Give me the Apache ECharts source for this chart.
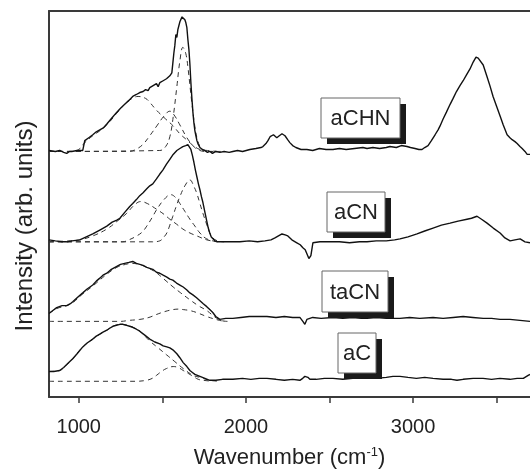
<!DOCTYPE html>
<html>
<head>
<meta charset="utf-8">
<script src="https://cdn.jsdelivr.net/npm/echarts@6/dist/echarts.min.js"></script>
<style>html,body{margin:0;padding:0;background:#fff}#c{width:530px;height:475px}</style>
</head>
<body>
<div id="c"></div>
<script>
// Wavenumber (cm-1) / intensity (arb. units, spectra vertically offset)
const xTicks = [1000, 1500, 2000, 2500, 3000, 3500];
const xTickLabels = [1000, 2000, 3000];
const sampleNames = ['aCHN', 'aCN', 'taCN', 'aC'];

const aCHN = [[822,251],[860,250],[886,251],[910,249],[928,248],[945,250],[958,250],[990,251],[1024,251],[1030,252],[1036,261],[1060,264],[1084,267],[1105,270],[1126,272],[1147,274],[1168,278],[1198,284],[1228,290],[1250,294],[1275,298],[1300,302],[1323,306],[1345,308],[1365,310],[1385,311],[1400,313],[1415,312],[1425,315],[1435,313],[1445,317],[1455,315],[1465,319],[1475,316],[1485,320],[1495,318],[1505,322],[1515,320],[1525,324],[1535,322],[1545,327],[1552,325],[1557,330],[1563,340],[1569,350],[1575,358],[1581,369],[1587,366],[1593,374],[1599,378],[1605,382],[1612,384],[1618,387],[1623,388],[1629,386],[1635,384],[1641,381],[1647,376],[1653,364],[1659,354],[1665,339],[1671,320],[1677,304],[1683,290],[1689,279],[1695,271],[1701,266],[1707,261],[1713,258],[1725,254],[1740,252],[1754,251],[1770,249],[1784,250],[1800,248],[1820,250],[1844,249],[1870,250],[1900,249],[1922,250],[1950,251],[1980,250],[2024,252],[2060,253],[2090,254],[2102,255],[2120,258],[2132,261],[2145,265],[2156,266],[2165,267],[2174,267],[2185,264],[2192,264],[2200,266],[2216,268],[2225,267],[2234,266],[2250,262],[2263,259],[2280,256],[2299,254],[2330,252],[2365,252],[2400,251],[2440,253],[2480,252],[2521,252],[2560,253],[2600,252],[2650,253],[2700,254],[2725,253],[2760,254],[2800,253],[2840,254],[2862,255],[2900,254],[2930,256],[2964,255],[2985,254],[3012,253],[3035,252],[3054,252],[3070,254],[3090,256],[3110,261],[3132,267],[3150,272],[3162,276],[3180,283],[3200,290],[3222,298],[3240,304],[3260,311],[3281,317],[3300,322],[3320,328],[3341,334],[3360,341],[3377,346],[3390,345],[3401,345],[3420,338],[3443,326],[3460,317],[3479,306],[3500,296],[3521,286],[3540,277],[3563,267],[3580,264],[3593,262],[3610,260],[3623,258],[3640,255],[3653,253],[3670,250],[3683,247],[3700,247]];
const aCHN_g1 = [[822,250],[950,250],[1000,252],[1036,259],[1084,266],[1126,271],[1168,277],[1228,289],[1275,298],[1320,304],[1355,306],[1400,304],[1425,300],[1465,292],[1520,283],[1565,276],[1605,268],[1645,262],[1685,256],[1725,252],[1770,251],[1830,250]];
const aCHN_g2 = [[822,250],[1300,250],[1340,252],[1383,257],[1425,266],[1467,276],[1510,286],[1545,291],[1575,286],[1605,277],[1647,264],[1683,256],[1710,252],[1760,250],[1850,250]];
const aCHN_g3 = [[822,250],[1485,251],[1520,255],[1545,265],[1565,285],[1587,316],[1605,342],[1623,356],[1640,350],[1653,336],[1677,299],[1695,275],[1707,264],[1725,255],[1745,251],[1800,250]];

const aCN = [[822,160],[860,159],[900,158],[928,158],[960,159],[1006,160],[1045,163],[1084,166],[1126,170],[1168,174],[1200,178],[1228,180],[1246,182],[1275,188],[1305,194],[1323,197],[1345,201],[1365,205],[1385,208],[1407,212],[1425,215],[1443,217],[1465,222],[1485,227],[1503,231],[1525,237],[1545,242],[1565,247],[1587,251],[1605,253],[1623,255],[1640,256],[1653,257],[1662,256],[1671,252],[1680,246],[1689,239],[1698,231],[1707,224],[1716,217],[1725,211],[1734,204],[1743,198],[1755,188],[1766,179],[1775,172],[1784,167],[1793,163],[1802,161],[1815,159],[1832,158],[1870,158],[1920,158],[1964,158],[2020,159],[2070,158],[2114,159],[2150,160],[2174,162],[2195,164],[2216,166],[2235,165],[2251,164],[2275,160],[2305,157],[2325,155],[2341,152],[2355,150],[2365,149],[2377,141],[2389,144],[2401,157],[2443,158],[2500,158],[2560,158],[2620,157],[2680,158],[2725,158],[2780,159],[2840,159],[2890,160],[2922,161],[2970,163],[3024,166],[3070,169],[3120,172],[3170,175],[3222,177],[3270,179],[3323,181],[3350,182],[3383,184],[3410,181],[3443,177],[3480,172],[3521,167],[3550,162],[3581,159],[3610,160],[3641,161],[3670,158],[3700,157]];
const aCN_g1 = [[822,158],[950,159],[1006,160],[1084,164],[1168,171],[1230,179],[1287,187],[1330,195],[1371,199],[1410,197],[1467,191],[1510,186],[1545,181],[1585,176],[1623,171],[1665,167],[1707,164],[1766,160],[1830,158]];
const aCN_g2 = [[822,158],[1200,158],[1263,158],[1300,160],[1347,164],[1380,168],[1407,174],[1440,183],[1467,191],[1510,201],[1551,206],[1580,203],[1605,197],[1635,189],[1665,181],[1695,174],[1725,167],[1766,161],[1830,158]];
const aCN_g3 = [[822,158],[1440,158],[1485,159],[1510,163],[1527,167],[1545,175],[1563,184],[1585,195],[1605,204],[1635,215],[1665,221],[1690,214],[1707,207],[1725,197],[1743,187],[1765,176],[1784,167],[1802,162],[1830,159],[1870,158]];

const taCN = [[822,85],[845,88],[868,91],[900,93],[928,93],[950,95],[964,97],[990,101],[1024,106],[1050,110],[1084,114],[1105,118],[1126,121],[1145,124],[1168,126],[1195,130],[1228,133],[1250,135],[1275,136],[1300,137],[1323,138],[1345,136],[1365,135],[1385,134],[1407,132],[1425,131],[1443,130],[1465,127],[1485,126],[1505,124],[1527,122],[1545,120],[1563,119],[1585,116],[1605,114],[1625,112],[1647,109],[1665,106],[1683,104],[1705,101],[1725,98],[1745,95],[1766,92],[1784,89],[1802,86],[1820,82],[1844,79],[1880,80],[1922,80],[1970,81],[2020,82],[2070,82],[2126,82],[2180,81],[2230,82],[2280,81],[2323,81],[2341,77],[2353,74],[2365,79],[2400,81],[2450,80],[2521,81],[2580,80],[2640,81],[2690,80],[2725,80],[2780,81],[2840,80],[2922,80],[2980,81],[3040,80],[3120,81],[3180,80],[3240,81],[3300,82],[3359,81],[3420,80],[3470,80],[3521,79],[3580,79],[3640,78],[3700,77]];
const taCN_g1 = [[822,85],[868,90],[928,93],[964,96],[1024,105],[1084,113],[1168,125],[1228,132],[1280,135],[1320,136],[1360,135],[1407,132],[1460,127],[1510,120],[1565,112],[1610,106],[1665,99],[1715,93],[1766,88],[1810,82],[1850,78],[1890,77]];
const taCN_g2 = [[822,77],[1250,77],[1300,78],[1365,79],[1420,81],[1465,84],[1515,87],[1565,89],[1600,89.5],[1625,89],[1665,88],[1705,86],[1765,82],[1820,79],[1870,77]];

const aC = [[822,26],[850,26],[886,27],[910,30],[928,33],[945,36],[964,39],[990,44],[1024,51],[1050,55],[1084,59],[1105,62],[1126,64],[1145,66],[1168,68],[1185,70],[1204,72],[1225,73],[1246,74],[1265,74],[1287,73],[1305,72],[1323,71],[1345,69],[1365,67],[1395,63],[1425,59],[1455,56],[1485,54],[1505,52],[1527,51],[1545,50],[1563,48],[1575,46],[1587,44],[1605,40],[1625,35],[1647,31],[1665,27],[1680,25],[1695,23],[1710,22],[1725,21],[1755,19],[1784,17],[1820,17],[1860,18],[1922,18],[1980,19],[2030,18],[2080,19],[2126,19],[2180,18],[2230,17],[2280,18],[2323,17],[2340,19],[2353,21],[2362,19],[2371,20],[2383,18],[2420,18],[2470,19],[2521,19],[2580,18],[2640,19],[2700,20],[2725,20],[2780,19],[2840,20],[2880,21],[2922,21],[2970,20],[3020,19],[3070,20],[3120,19],[3180,18],[3230,18],[3263,17],[3300,18],[3360,19],[3419,19],[3470,18],[3520,19],[3580,18],[3623,19],[3660,19],[3689,22],[3700,23]];
const aC_g1 = [[822,26],[886,27],[928,33],[964,39],[1024,51],[1084,59],[1126,64],[1168,68],[1204,72],[1246,74],[1287,73],[1323,71],[1365,67],[1425,57],[1475,50],[1525,43],[1575,36],[1625,29],[1685,22],[1725,20],[1784,17],[1850,16]];
const aC_g2 = [[822,16],[1340,16],[1405,17],[1440,19],[1465,22],[1495,26],[1525,29],[1565,31],[1595,30],[1625,27],[1655,24],[1685,21],[1715,18],[1745,17],[1800,16]];

const spectra = [aCHN, aCN, taCN, aC];
const fits = [[aCHN_g1, aCHN_g2, aCHN_g3], [aCN_g1, aCN_g2, aCN_g3], [taCN_g1, taCN_g2], [aC_g1, aC_g2]];

// label box layout (pixels)
const boxLayout = [
  {x: 321, y: 98, w: 79, h: 40},
  {x: 327, y: 192, w: 58, h: 40},
  {x: 322, y: 271, w: 66, h: 41},
  {x: 338, y: 333, w: 38, h: 40}
];

const FONT = '"Liberation Sans", Arial, Helvetica, sans-serif';
const axisColor = '#3a3a3a';

const series = [];
fits.forEach((comps, i) => {
  comps.forEach((d, j) => {
    series.push({
      name: sampleNames[i] + ' fit ' + (j + 1),
      type: 'line', data: d, showSymbol: false, smooth: 0.4, silent: true,
      lineStyle: {color: '#333', width: 1, type: [5, 4]}, z: 2
    });
  });
});
spectra.forEach((d, i) => {
  series.push({
    name: sampleNames[i],
    type: 'line', data: d, showSymbol: false, smooth: false, silent: true,
    lineStyle: {color: '#111', width: 1.4}, z: 3
  });
});

const graphics = [];
sampleNames.forEach((name, i) => {
  const b = boxLayout[i];
  graphics.push({type: 'rect', shape: {x: b.x + 6, y: b.y + 6, width: b.w, height: b.h}, style: {fill: '#1a1a1a'}, z: 10});
  graphics.push({type: 'rect', shape: {x: b.x, y: b.y, width: b.w, height: b.h}, style: {fill: '#fff', stroke: '#666', lineWidth: 1}, z: 11});
  graphics.push({type: 'text', x: b.x + b.w / 2, y: b.y + b.h / 2 + 1, style: {text: name, font: '22px ' + FONT, fill: '#222', textAlign: 'center', textVerticalAlign: 'middle'}, z: 12});
});
graphics.push({type: 'text', x: 25, y: 226, rotation: Math.PI / 2,
  style: {text: 'Intensity (arb. units)', font: '24px ' + FONT, fill: '#222', textAlign: 'center', textVerticalAlign: 'middle'}});

const chart = echarts.init(document.getElementById('c'), null, {renderer: 'canvas'});
chart.setOption({
  animation: false,
  backgroundColor: '#fff',
  grid: {left: 49, right: 0, top: 11, bottom: 71},
  xAxis: [{
    type: 'value', min: 822, max: 3700, position: 'bottom',
    axisLine: {show: true, lineStyle: {color: axisColor, width: 2}},
    axisTick: {show: true, length: 6, customValues: xTicks, lineStyle: {color: axisColor, width: 1.5}},
    axisLabel: {customValues: xTickLabels, margin: 20, fontSize: 20, fontFamily: FONT, color: '#222',
      formatter: v => String(v)},
    splitLine: {show: false},
    name: 'Wavenumber (cm{sup|-1})', nameLocation: 'middle', nameGap: 49,
    nameTextStyle: {fontSize: 22, fontFamily: FONT, color: '#222', lineHeight: 24,
      rich: {sup: {fontSize: 13, fontFamily: FONT, color: '#222', verticalAlign: 'top', lineHeight: 24}}}
  }, {
    type: 'value', min: 822, max: 3700, position: 'top',
    axisLine: {show: true, lineStyle: {color: axisColor, width: 2}},
    axisTick: {show: false}, axisLabel: {show: false}, splitLine: {show: false}
  }],
  yAxis: {
    type: 'value', min: 0, max: 393,
    axisLine: {show: true, lineStyle: {color: axisColor, width: 2}},
    axisTick: {show: false}, axisLabel: {show: false}, splitLine: {show: false}
  },
  series: series,
  graphic: graphics
});
</script>
</body>
</html>
